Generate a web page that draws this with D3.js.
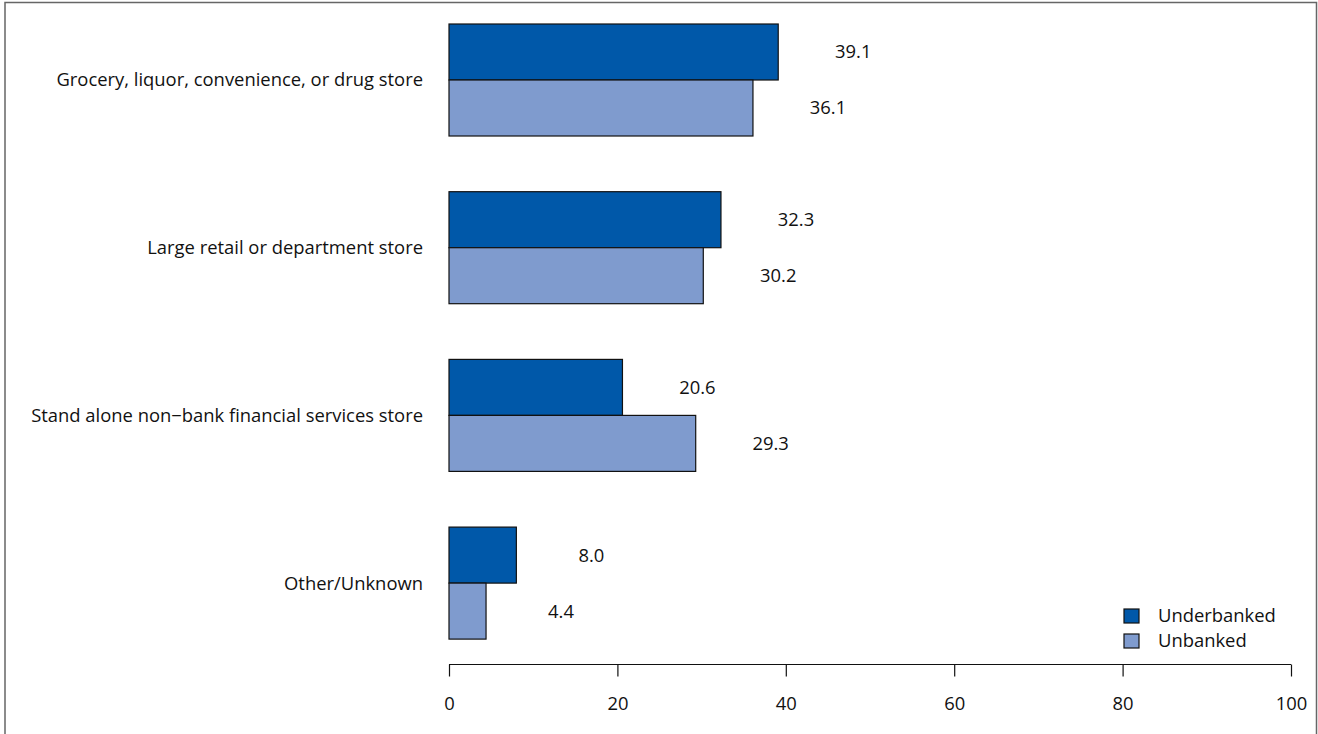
<!DOCTYPE html>
<html><head><meta charset="utf-8">
<script src="https://cdn.jsdelivr.net/npm/d3@7"></script>
<style>body{margin:0;background:#fff}svg{display:block}text{font-family:"Open Sans",sans-serif;fill:#111}</style>
</head><body>
<svg id="c" width="1318" height="734"></svg>
<script>
const categories = ["Grocery, liquor, convenience, or drug store","Large retail or department store","Stand alone non\u2212bank financial services store","Other/Unknown"];
const seriesNames = ["Underbanked","Unbanked"];
const underbanked = [39.1, 32.3, 20.6, 8.0];
const unbanked = [36.1, 30.2, 29.3, 4.4];
const ticks = [0,20,40,60,80,100];
const colors = ["#0058A9","#7F9BCE"];
const FS = 18.4;

const svg = d3.select("#c");
svg.append("path").attr("d","M5,734V2.5H1316.5V734").attr("fill","none").attr("stroke","#666").attr("stroke-width",1.5);

const x = d3.scaleLinear().domain([0,100]).range([449,1291]);
const barH = 56;
const groupTop = c => 24 + categories.indexOf(c)*167.7;

const series = [underbanked, unbanked];
series.forEach((vals, si) => {
  svg.append("g").selectAll("rect").data(categories).join("rect")
    .attr("x", x(0)).attr("y", c => groupTop(c) + si*barH)
    .attr("width", (c,i) => x(vals[i]) - x(0)).attr("height", barH)
    .attr("fill", colors[si]).attr("stroke","#111").attr("stroke-width",1.2);
  svg.append("g").selectAll("text").data(categories).join("text")
    .attr("x", (c,i) => x(vals[i]) + 75).attr("y", c => groupTop(c) + si*barH + barH/2)
    .attr("dy","0.35em").attr("text-anchor","middle").attr("font-size",FS).text((c,i) => vals[i].toFixed(1));
});

svg.append("g").selectAll("text").data(categories).join("text")
  .attr("x", 423).attr("y", c => groupTop(c) + barH).attr("dy","0.35em")
  .attr("text-anchor","end").attr("font-size",FS).text(c => c);

const axis = d3.axisBottom(x).tickValues(ticks).tickSize(12).tickPadding(20).tickFormat(d3.format("d"));
const ag = svg.append("g").attr("transform","translate(0,664.5)").call(axis);
ag.select(".domain").attr("d","M449,0H1291").attr("stroke","#111").attr("stroke-width",1.2);
ag.selectAll(".tick line").attr("stroke","#111").attr("stroke-width",1.2);
ag.selectAll(".tick text").attr("font-size",FS).attr("font-family","'Open Sans',sans-serif").attr("fill","#111");

const lg = svg.append("g");
seriesNames.forEach((n,i) => {
  lg.append("rect").attr("x",1124).attr("y",609+i*25).attr("width",15).attr("height",14)
    .attr("fill",colors[i]).attr("stroke","#111").attr("stroke-width",1.2);
  lg.append("text").attr("x",1158).attr("y",616+i*25).attr("dy","0.35em").attr("font-size",FS).text(n);
});
</script></body></html>
